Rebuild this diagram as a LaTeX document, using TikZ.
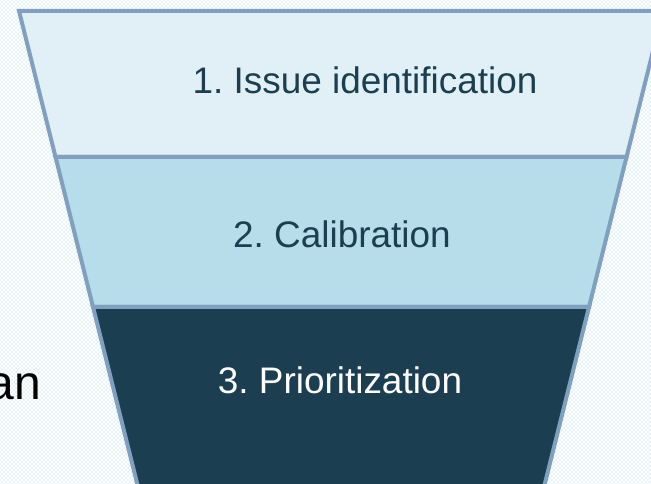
\documentclass[tikz,border=0pt]{standalone}
\usepackage{fontspec}
\setmainfont{Liberation Sans}
\usetikzlibrary{patterns}
\definecolor{bordure}{RGB}{127,160,190}
\definecolor{clair}{RGB}{225,240,247}
\definecolor{moyen}{RGB}{183,220,234}
\definecolor{fonce}{RGB}{27,63,80}
\definecolor{fond}{RGB}{150,205,232}
\frenchspacing
\begin{document}
\begin{tikzpicture}[x=0.75pt,y=-0.75pt]
  \tikzstyle{tranche}=[draw=bordure, line width=3pt, line join=miter]
  \tikzstyle{etiquette}=[font=\fontsize{27.7}{33}\selectfont, anchor=base, inner sep=0pt]
  \useasboundingbox (0,0) rectangle (651,484);
  \clip (0,0) rectangle (651,484);
  \fill[white] (0,0) rectangle (651,484);
  \fill[pattern=crosshatch dots, pattern color=fond] (0,0) rectangle (651,484);
  \foreach \h/\b/\c in {11/157/clair,157/307/moyen,307/500/fonce} {
    \draw[tranche, fill=\c] ({19+0.25*(\h-11)},\h) -- ({663-0.25*(\h-11)},\h)
      -- ({663-0.25*(\b-11)},\b) -- ({19+0.25*(\b-11)},\b) -- cycle;
  }
  \node[etiquette, text=fonce] (issue) at (365,94) {1. Issue identification};
  \node[etiquette, text=fonce] (calib) at (342,248) {2. Calibration};
  \node[etiquette, text=white] (prio) at (340,394) {3. Prioritization};
  \node[font=\fontsize{36}{40}\selectfont, anchor=base east, inner sep=0pt] (an) at (41,400) {an};
\end{tikzpicture}
\end{document}
